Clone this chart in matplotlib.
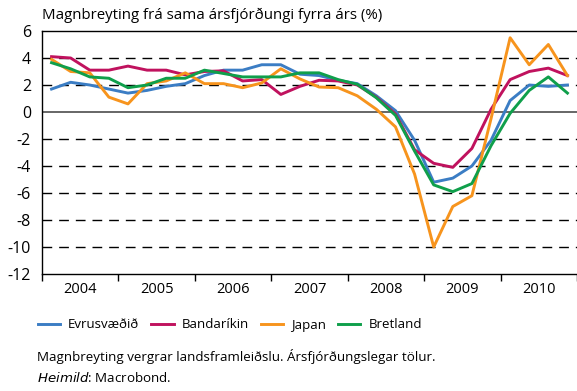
import numpy as np
import matplotlib.pyplot as plt

# Hagvöxtur milli ára, ársfjórðungar 2004F1 - 2010F4 (%)
ar = [2004, 2005, 2006, 2007, 2008, 2009, 2010]
evrusvaedid = [1.7, 2.2, 2.0, 1.7, 1.4, 1.6, 1.9, 2.1, 2.7, 3.1, 3.1, 3.5, 3.5, 2.8,
               2.7, 2.35, 2.1, 1.2, 0.1, -2.1, -5.2, -4.9, -4.0, -2.1, 0.85, 2.0, 1.9, 2.0]
bandarikin = [4.1, 4.0, 3.1, 3.1, 3.4, 3.1, 3.1, 2.75, 3.0, 3.05, 2.3, 2.4, 1.3, 1.9,
              2.35, 2.3, 2.0, 1.1, -0.15, -2.8, -3.8, -4.1, -2.7, 0.2, 2.4, 3.0, 3.25, 2.7]
japan = [3.9, 3.0, 2.9, 1.1, 0.6, 2.1, 2.3, 2.9, 2.1, 2.1, 1.8, 2.15, 3.2, 2.45,
         1.85, 1.8, 1.2, 0.2, -1.1, -4.6, -10.0, -7.0, -6.2, -0.5, 5.5, 3.5, 5.0, 2.7]
bretland = [3.65, 3.2, 2.6, 2.5, 1.8, 2.0, 2.5, 2.5, 3.1, 2.85, 2.6, 2.6, 2.6, 2.9,
            2.9, 2.4, 2.05, 1.05, -0.25, -2.9, -5.4, -5.9, -5.3, -2.5, -0.1, 1.6, 2.6, 1.4]

plt.rcParams['font.family'] = ['Open Sans', 'DejaVu Sans']

W, H = 577, 391
fig = plt.figure(figsize=(W / 100, H / 100), dpi=100)
ax = fig.add_axes([42 / W, 1 - 274 / H, 1 - 42 / W, (274 - 31) / H])

x = np.arange(len(evrusvaedid))
lw = 2.1
ax.plot(x, evrusvaedid, color='#3b7dc4', lw=lw, label='Evrusvæðið', zorder=3)
ax.plot(x, bandarikin, color='#c0125e', lw=lw, label='Bandaríkin', zorder=3)
ax.plot(x, japan, color='#f7941d', lw=lw, label='Japan', zorder=3)
ax.plot(x, bretland, color='#0f9f4b', lw=lw, label='Bretland', zorder=3)

# grindarlínur
for yv in [4, 2, -2, -4, -6, -8, -10]:
    ax.axhline(yv, color='black', lw=1.0, dashes=(7, 5), zorder=1)
ax.axhline(0, color='#666666', lw=1.4, zorder=1)

ax.set_ylim(-12, 6)
ax.set_xlim(-0.5, 27.3)
ax.set_yticks(np.arange(-12, 7, 2))
ax.set_yticklabels([str(v) for v in range(-12, 7, 2)])
ax.tick_params(axis='y', length=0, pad=8, labelsize=11.5)

# ártöl á milli árásmerkja
ax.set_xticks(np.arange(-0.5, 28, 4))
ax.set_xticklabels([])
ax.set_xticks(np.arange(1.5, 28, 4), minor=True)
ax.set_xticklabels([str(a) for a in ar], minor=True)
ax.tick_params(axis='x', which='major', direction='out', length=5, width=1)
ax.tick_params(axis='x', which='minor', length=0, pad=6, labelsize=10.5)

for s in ['left', 'top', 'bottom']:
    ax.spines[s].set_linewidth(1.0)
    ax.spines[s].set_color('black')
ax.spines['right'].set_visible(False)

fig.text(42 / W, 1 - 15 / H, 'Magnbreyting frá sama ársfjórðungi fyrra árs (%)',
         fontsize=10.8, va='center', ha='left')

fig.legend(loc='center left', bbox_to_anchor=(26 / W, 1 - 325 / H), ncol=4,
           frameon=False, fontsize=9.5, handlelength=1.7, handletextpad=0.6,
           columnspacing=0.9)

fig.text(37 / W, 1 - 357 / H,
         'Magnbreyting vergrar landsframleiðslu. Ársfjórðungslegar tölur.',
         fontsize=9.6, va='center', ha='left')
fig.text(37 / W, 1 - 378 / H, r'$\it{Heimild}$: Macrobond.', fontsize=9.6,
         va='center', ha='left')

fig.savefig('out.png', dpi=100)
